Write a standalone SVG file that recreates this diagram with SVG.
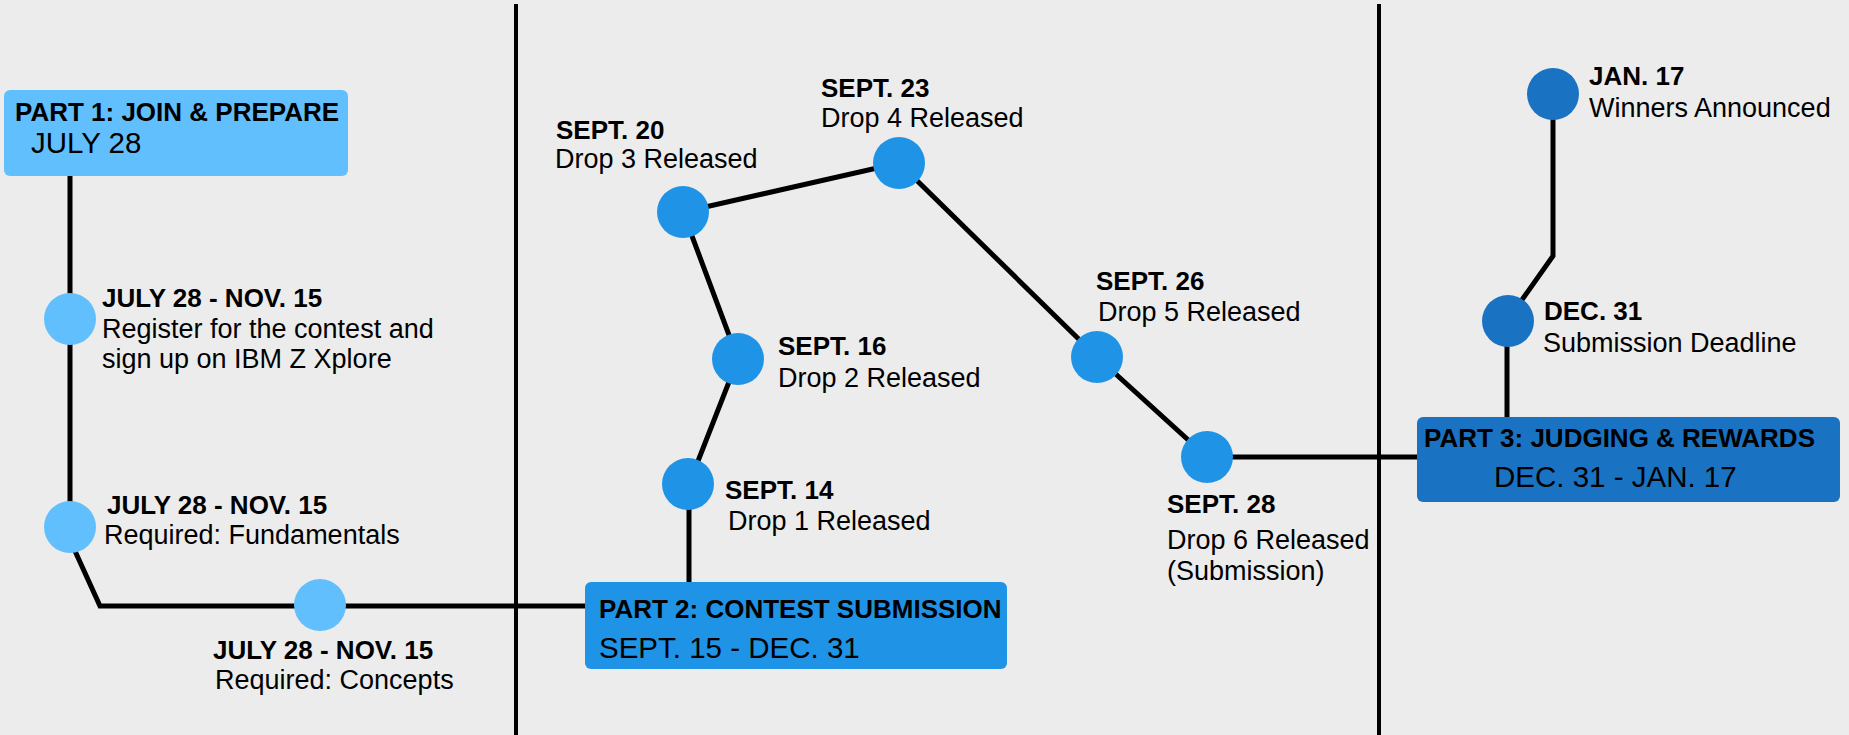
<svg xmlns="http://www.w3.org/2000/svg" width="1849" height="735" viewBox="0 0 1849 735">
<style>
.bg{fill:#ececec}
.div{stroke:#000;stroke-width:4;fill:none}
.conn{stroke:#000;stroke-width:5;fill:none;stroke-linejoin:miter}
.c1{fill:#62bffd}
.c2{fill:#1f93e6}
.c3{fill:#1a73c2}
.b{font-family:"Liberation Sans",Arial,sans-serif;font-weight:bold;font-size:26px;fill:#000}
.r{font-family:"Liberation Sans",Arial,sans-serif;font-size:27px;fill:#000}
.d{font-family:"Liberation Sans",Arial,sans-serif;font-size:29.5px;fill:#000}
</style>
<rect class="bg" x="0" y="0" width="1849" height="735"/>
<g id="dividers">
<line class="div" x1="516" y1="4" x2="516" y2="735"/>
<line class="div" x1="1379" y1="4" x2="1379" y2="735"/>
</g>
<g id="connectors">
<path class="conn" d="M70 176 V540 L100 606 H585"/>
<path class="conn" d="M689 582 V484 L738 359 L683 212 L899 163 L1097 357 L1207 457 H1418"/>
<path class="conn" d="M1507 417 V321 L1553 256 V94"/>
</g>
<g id="part1">
<rect class="c1" x="4" y="90" width="344" height="86" rx="6"/>
<text class="b" x="15" y="121" font-size="25.6">PART 1: JOIN &amp; PREPARE</text>
<text class="d" x="31" y="153" font-size="28">JULY 28</text>
</g>
<g id="reg">
<circle class="c1" cx="70" cy="319" r="26"/>
<text class="b" x="102" y="307">JULY 28 - NOV. 15</text>
<text class="r" x="102" y="338">Register for the contest and</text>
<text class="r" x="102" y="368">sign up on IBM Z Xplore</text>
</g>
<g id="fundamentals">
<circle class="c1" cx="70" cy="527" r="26"/>
<text class="b" x="107" y="514">JULY 28 - NOV. 15</text>
<text class="r" x="104" y="544">Required: Fundamentals</text>
</g>
<g id="concepts">
<circle class="c1" cx="320" cy="605" r="26"/>
<text class="b" x="213" y="659">JULY 28 - NOV. 15</text>
<text class="r" x="215" y="689">Required: Concepts</text>
</g>
<g id="part2">
<rect class="c2" x="585" y="582" width="422" height="87" rx="6"/>
<text class="b" x="599" y="618">PART 2: CONTEST SUBMISSION</text>
<text class="d" x="599" y="658">SEPT. 15 - DEC. 31</text>
</g>
<g id="sept14">
<circle class="c2" cx="688" cy="484" r="26"/>
<text class="b" x="725" y="499">SEPT. 14</text>
<text class="r" x="728" y="530">Drop 1 Released</text>
</g>
<g id="sept16">
<circle class="c2" cx="738" cy="359" r="26"/>
<text class="b" x="778" y="355">SEPT. 16</text>
<text class="r" x="778" y="387">Drop 2 Released</text>
</g>
<g id="sept20">
<circle class="c2" cx="683" cy="212" r="26"/>
<text class="b" x="556" y="139">SEPT. 20</text>
<text class="r" x="555" y="168">Drop 3 Released</text>
</g>
<g id="sept23">
<circle class="c2" cx="899" cy="163" r="26"/>
<text class="b" x="821" y="97">SEPT. 23</text>
<text class="r" x="821" y="127">Drop 4 Released</text>
</g>
<g id="sept26">
<circle class="c2" cx="1097" cy="357" r="26"/>
<text class="b" x="1096" y="290">SEPT. 26</text>
<text class="r" x="1098" y="321">Drop 5 Released</text>
</g>
<g id="sept28">
<circle class="c2" cx="1207" cy="457" r="26"/>
<text class="b" x="1167" y="513">SEPT. 28</text>
<text class="r" x="1167" y="549">Drop 6 Released</text>
<text class="r" x="1167" y="580">(Submission)</text>
</g>
<g id="part3">
<rect class="c3" x="1417" y="417" width="423" height="85" rx="6"/>
<text class="b" x="1424" y="447">PART 3: JUDGING &amp; REWARDS</text>
<text class="d" x="1494" y="487">DEC. 31 - JAN. 17</text>
</g>
<g id="dec31">
<circle class="c3" cx="1508" cy="321" r="26"/>
<text class="b" x="1544" y="320">DEC. 31</text>
<text class="r" x="1543" y="352">Submission Deadline</text>
</g>
<g id="jan17">
<circle class="c3" cx="1553" cy="94" r="26"/>
<text class="b" x="1589" y="85">JAN. 17</text>
<text class="r" x="1589" y="117">Winners Announced</text>
</g>
</svg>
